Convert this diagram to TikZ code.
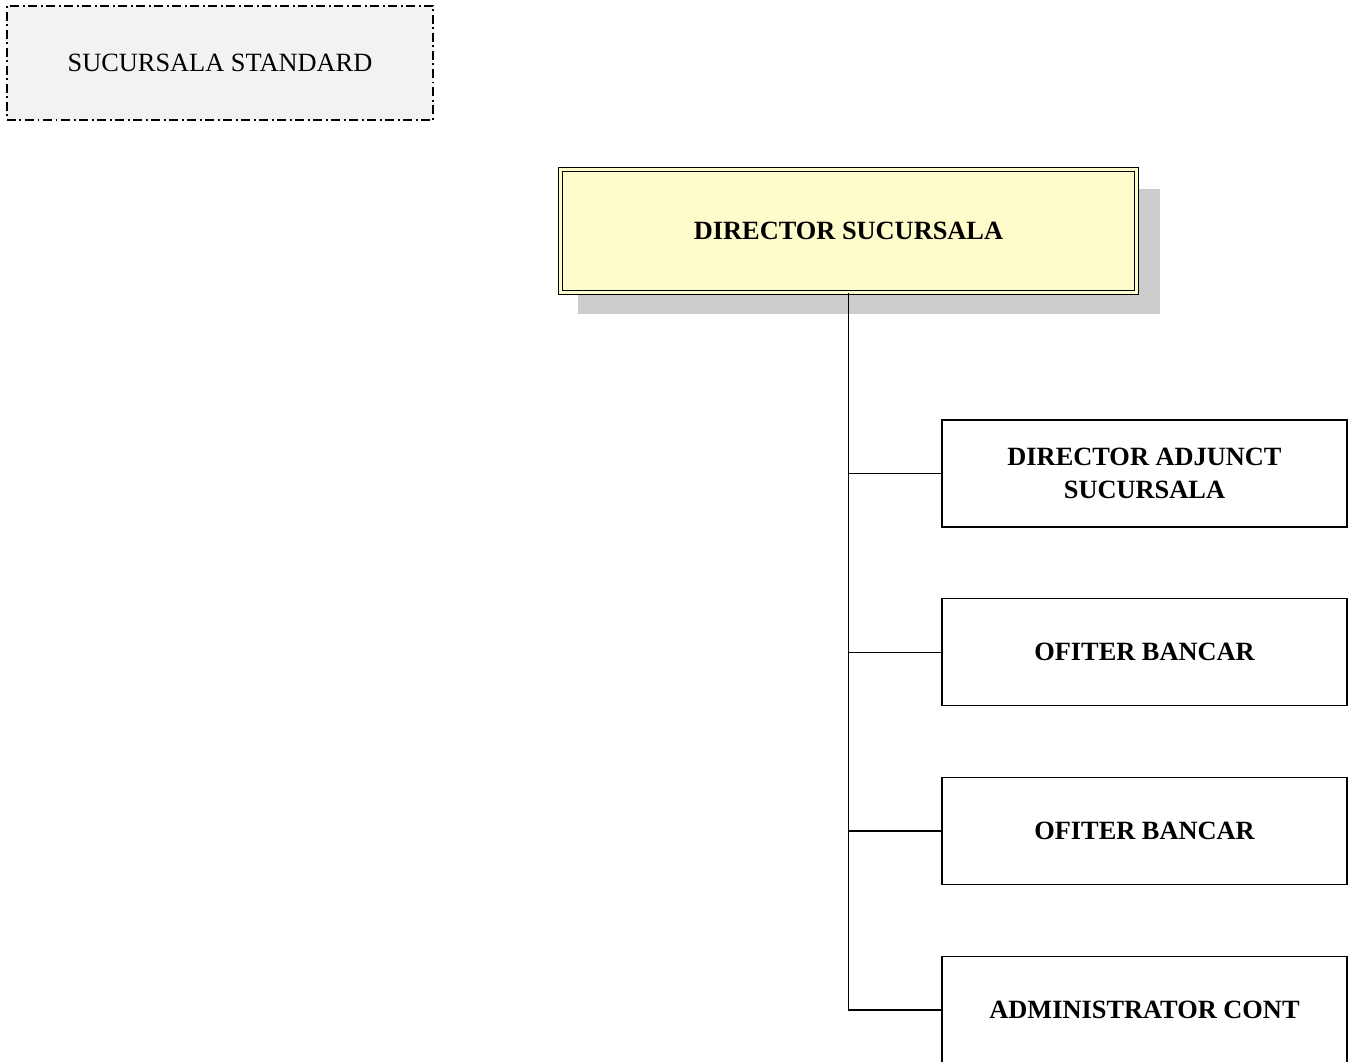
\documentclass[tikz,border=0pt]{standalone}
\usepackage{fontspec}
\setmainfont{Liberation Serif}
\usetikzlibrary{positioning, shadows, calc}

\begin{document}
\begin{tikzpicture}[
    node distance=1.41cm,
    every node/.style={font=\fontsize{15}{18.5}\selectfont},
    branch/.style={rectangle, draw, fill=black!5, line width=0.7pt, dash pattern=on 0.18cm off 0.07cm on 0.04cm off 0.07cm, minimum width=8.52cm, minimum height=2.28cm},
    head/.style={rectangle, draw, line width=0.55pt, double=yellow!20, double distance=1.6pt, fill=yellow!20, minimum width=11.53cm, minimum height=2.47cm, font=\fontsize{15}{18.5}\selectfont\bfseries, drop shadow={shadow xshift=0.4cm, shadow yshift=-0.4cm, shadow scale=1.01, fill=black!20, opacity=1}},
    post/.style={rectangle, draw, line width=0.75pt, fill=white, minimum width=8.1cm, minimum height=2.14cm, align=center, font=\fontsize{15}{18.5}\selectfont\bfseries},
    link/.style={line width=0.75pt}
]
\useasboundingbox (0,0) rectangle (27,-21.22);
% Unit label
\node[branch] (std) at (4.4,-1.26) {SUCURSALA STANDARD};
% Management
\node[head] (dir) at (16.97,-4.62) {DIRECTOR SUCURSALA};
% Staff
\node[post] (adj) at (22.89,-9.47) {DIRECTOR ADJUNCT\\SUCURSALA};
\node[post, below=of adj] (of1) {OFITER BANCAR};
\node[post, below=of of1] (of2) {OFITER BANCAR};
\node[post, below=of of2] (adm) {ADMINISTRATOR CONT};
% Reporting lines
\draw[link] (dir.south) -- (dir.south |- adm.west) -- (adm.west);
\foreach \p in {adj, of1, of2}
    \draw[link] (dir.south |- \p.west) -- (\p.west);
\end{tikzpicture}
\end{document}
